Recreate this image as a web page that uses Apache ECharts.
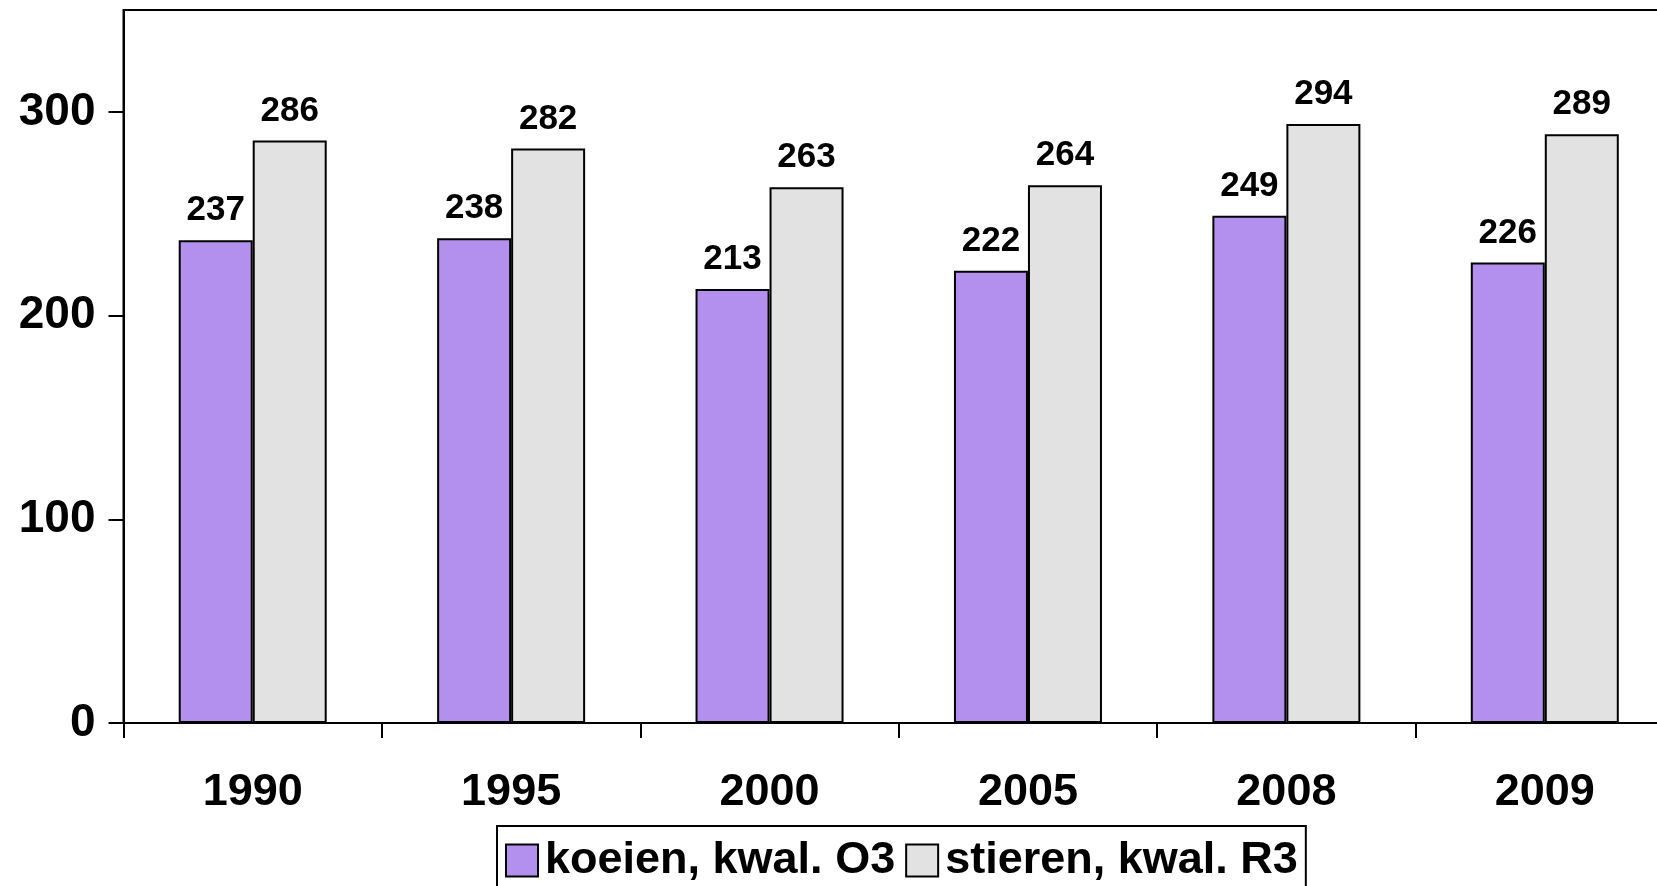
<!DOCTYPE html>
<html>
<head>
<meta charset="utf-8">
<script src="https://cdn.jsdelivr.net/npm/echarts@6/dist/echarts.min.js"></script>
<style>
html,body{margin:0;padding:0;background:#fff;overflow:hidden;width:1657px;height:886px;}
#c{width:1690px;height:886px;}
</style>
</head>
<body>
<div id="c"></div>
<script>
const categories = ['1990', '1995', '2000', '2005', '2008', '2009'];
const koeien = [237, 238, 213, 222, 249, 226];
const stieren = [286, 282, 263, 264, 294, 289];
const seriesNames = ['koeien, kwal. O3', 'stieren, kwal. R3'];
const yTicks = [0, 100, 200, 300];

const FONT = '"Liberation Sans", Arial, sans-serif';
const chart = echarts.init(document.getElementById('c'), null, {renderer: 'canvas'});
const labelStyle = {
  show: true, position: 'top', distance: 12,
  color: '#000', fontFamily: FONT, fontWeight: 'bold', fontSize: 35
};
chart.setOption({
  animation: false,
  backgroundColor: '#fff',
  grid: {
    left: 123.5, top: 10, bottom: 163, right: 16,
    show: true, borderColor: '#000', borderWidth: 2, backgroundColor: 'transparent'
  },
  legend: {
    left: 497, top: 826,
    orient: 'horizontal',
    padding: [12, 8, 20, 8],
    borderColor: '#000', borderWidth: 2,
    itemWidth: 32, itemHeight: 32, itemGap: 10,
    icon: 'rect',
    textStyle: {color: '#000', fontFamily: FONT, fontWeight: 'bold', fontSize: 45, padding: [0, 0, 0, 2]},
    data: seriesNames
  },
  xAxis: {
    type: 'category',
    data: categories,
    axisLine: {show: true, lineStyle: {color: '#000', width: 2}},
    axisTick: {show: true, length: 15, lineStyle: {color: '#000', width: 2}},
    axisLabel: {color: '#000', fontFamily: FONT, fontWeight: 'bold', fontSize: 45, margin: 47},
    splitLine: {show: false}
  },
  yAxis: {
    type: 'value',
    min: 0, max: 350, interval: 50,
    axisLine: {show: true, lineStyle: {color: '#000', width: 2}},
    axisTick: {show: true, length: 15, lineStyle: {color: '#000', width: 2}, customValues: yTicks},
    axisLabel: {color: '#000', fontFamily: FONT, fontWeight: 'bold', fontSize: 46, margin: 28, customValues: yTicks},
    splitLine: {show: false}
  },
  series: [
    {
      name: seriesNames[0], type: 'bar', data: koeien,
      barWidth: 74, barGap: '0%',
      itemStyle: {color: '#b490ee', borderColor: '#000', borderWidth: 2},
      label: labelStyle
    },
    {
      name: seriesNames[1], type: 'bar', data: stieren,
      barWidth: 74,
      itemStyle: {color: '#e2e2e2', borderColor: '#000', borderWidth: 2},
      label: labelStyle
    }
  ]
});
</script>
</body>
</html>
